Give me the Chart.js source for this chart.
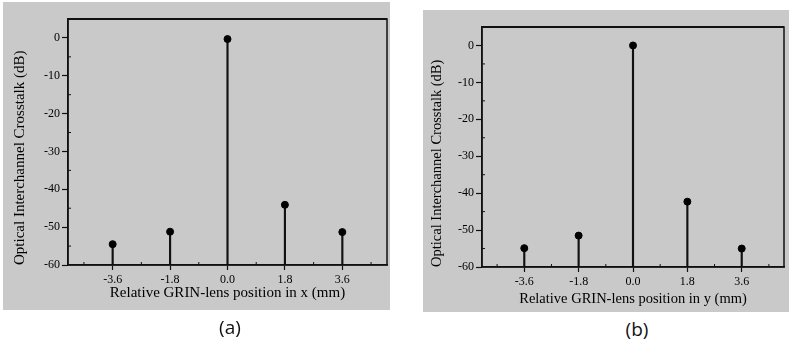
<!DOCTYPE html>
<html>
<head>
<meta charset="utf-8">
<script src="https://cdn.jsdelivr.net/npm/chart.js@4/dist/chart.umd.min.js"></script>
<style>
  body { margin: 0; background: #fff; width: 789px; height: 341px; position: relative; overflow: hidden; }
  .panel { position: absolute; background: #c9c9c9; }
  canvas { position: absolute; }
  .cap { position: absolute; font-family: "Open Sans", sans-serif; font-size: 19px; color: #111; transform: translateX(-50%); }
</style>
</head>
<body>
<div class="panel" style="left:3px;top:2px;width:387px;height:308px"></div>
<div class="panel" style="left:423px;top:10px;width:366px;height:302px"></div>
<div style="position:absolute;left:0;top:0;width:392px;height:315px"><canvas id="chartA"></canvas></div>
<div style="position:absolute;left:420px;top:0;width:369px;height:315px"><canvas id="chartB"></canvas></div>
<div class="cap" style="left:230px;top:314px">(a)</div>
<div class="cap" style="left:637px;top:316px">(b)</div>
<script>
// lens positions (mm) and crosstalk (dB)
var positions = [-3.6, -1.8, 0.0, 1.8, 3.6];
var crosstalkX = [-54.5, -51.2, -0.3, -44.1, -51.3];
var crosstalkY = [-54.9, -51.5, 0.0, -42.3, -55.0];
var xTicks = [-3.6, -1.8, 0.0, 1.8, 3.6];
var xMinor = [-4.5, -2.7, -0.9, 0.9, 2.7, 4.5];
var yMinor = [-55, -45, -35, -25, -15, -5];
var yMin = -60, yMax = 5;

// box round the plot + small inner ticks
var framePlugin = {
  id: 'frame',
  afterDraw: function(chart) {
    var ctx = chart.ctx, a = chart.chartArea;
    var xs = chart.scales.x, ys = chart.scales.y;
    ctx.save();
    ctx.strokeStyle = '#111';
    ctx.lineWidth = 1.5;
    ctx.strokeRect(a.left, a.top, a.right - a.left, a.bottom - a.top);
    ctx.lineWidth = 2;
    ctx.beginPath();
    ctx.moveTo(a.left, a.top);
    ctx.lineTo(a.right, a.top);
    ctx.stroke();
    ctx.lineWidth = 1;
    ctx.beginPath();
    xMinor.forEach(function(v) {
      var px = xs.getPixelForValue(v);
      ctx.moveTo(px, a.bottom);
      ctx.lineTo(px, a.bottom - 3);
    });
    yMinor.forEach(function(v) {
      var py = ys.getPixelForValue(v);
      ctx.moveTo(a.left, py);
      ctx.lineTo(a.left + 3, py);
    });
    ctx.stroke();
    ctx.restore();
  }
};

function makeChart(id, values, xTitle, opt) {
  var stems = [], dots = [];
  for (let i = 0; i < positions.length; i++) {
    stems.push({x: positions[i], y: [yMin, values[i]]});
    dots.push({x: positions[i], y: values[i]});
  }
  return new Chart(document.getElementById(id), {
    type: 'scatter',
    data: {
      datasets: [{
        type: 'scatter',
        data: dots,
        backgroundColor: '#000',
        borderColor: '#000',
        pointRadius: 3.5
      }, {
        type: 'bar',
        data: stems,
        backgroundColor: '#111',
        barThickness: 1.5,
        grouped: false
      }]
    },
    options: {
      responsive: true,
      maintainAspectRatio: false,
      animation: false,
      layout: { padding: { top: opt.top, right: opt.right, left: 0, bottom: 0 } },
      plugins: { legend: { display: false }, tooltip: { enabled: false } },
      scales: {
        x: {
          type: 'linear',
          min: -5, max: 5,
          offset: false,
          afterBuildTicks: function(s) { s.ticks = xTicks.map(function(v) { return {value: v}; }); },
          afterFit: function(s) { s.height = opt.xh; },
          ticks: {
            color: '#000',
            padding: 3,
            maxRotation: 0,
            font: { family: 'Liberation Serif', size: 12 },
            callback: function(v) { return Number(v).toFixed(1); }
          },
          grid: { offset: false, drawOnChartArea: false, tickLength: 5, color: '#111', tickWidth: 1.2 },
          border: { display: true, color: '#111', width: 1.5 },
          title: {
            display: true,
            text: xTitle,
            color: '#000',
            font: { family: 'Liberation Serif', size: opt.fs },
            padding: { top: 0, bottom: opt.xtp }
          }
        },
        y: {
          type: 'linear',
          min: yMin, max: yMax,
          afterFit: function(s) { s.width = opt.yw; },
          ticks: {
            stepSize: 10,
            includeBounds: false,
            color: '#000',
            padding: 2,
            font: { family: 'Liberation Serif', size: 12 }
          },
          grid: { drawOnChartArea: false, tickLength: 6, color: '#111', tickWidth: 1.2 },
          border: { display: true, color: '#111', width: 1.5 },
          title: {
            display: true,
            text: 'Optical Interchannel Crosstalk (dB)',
            align: 'start',
            color: '#000',
            font: { family: 'Liberation Serif', size: opt.fs },
            padding: { top: opt.ytp, bottom: 0 }
          }
        }
      }
    },
    plugins: [framePlugin]
  });
}

makeChart('chartA', crosstalkX, 'Relative GRIN-lens position in x (mm)',
  { top: 19, right: 4, yw: 68, xh: 50, fs: 15, ytp: 11, xtp: 13 });
makeChart('chartB', crosstalkY, 'Relative GRIN-lens position in y (mm)',
  { top: 27, right: 1, yw: 62, xh: 48, fs: 14.5, ytp: 8.3, xtp: 7.3 });
</script>
</body>
</html>
